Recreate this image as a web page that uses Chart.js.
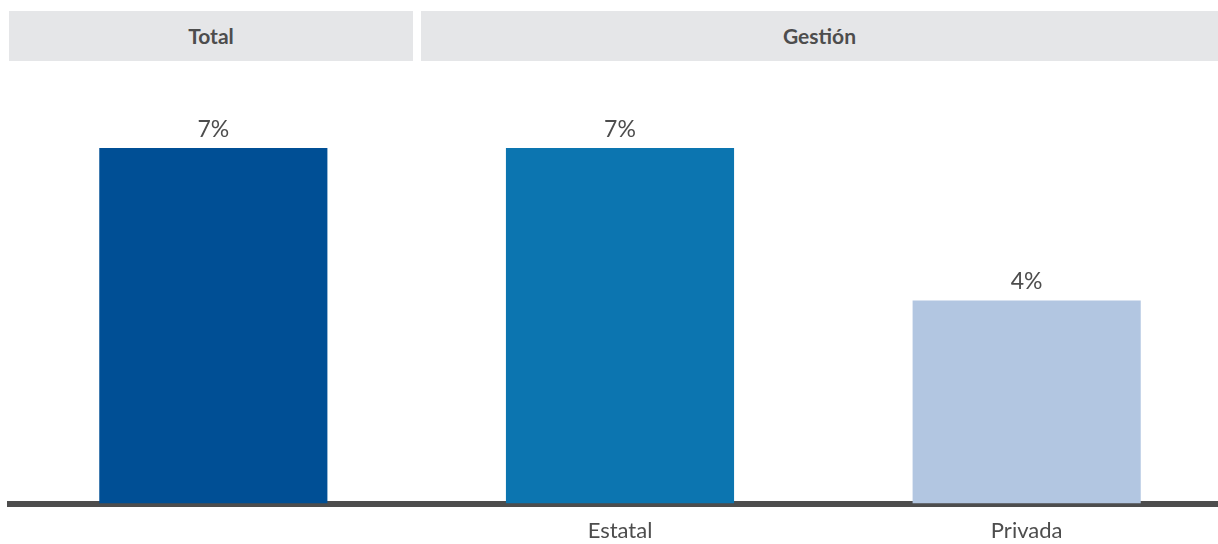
<!DOCTYPE html>
<html>
<head>
<meta charset="utf-8">
<script src="https://cdn.jsdelivr.net/npm/chart.js"></script>
<style>
  html, body { margin: 0; padding: 0; background: #fff; overflow: hidden; }
  #wrap { position: relative; width: 1218px; height: 544px; overflow: hidden; }
  #box { position: absolute; left: 0; top: 0; width: 1230px; height: 544px; }
  .head {
    position: absolute; top: 11px; height: 50px; line-height: 50px;
    background: #e5e6e8; color: #4d4d4d; text-align: center;
    font-family: Lato, sans-serif; font-weight: bold; font-size: 21px;
  }
</style>
</head>
<body>
<div id="wrap">
  <div id="box"><canvas id="myChart"></canvas></div>
  <div class="head" style="left:9px; width:404px;">Total</div>
  <div class="head" style="left:421px; width:797px;">Gestión</div>
</div>
<script>
// Chart data
var categories = ['Total', 'Estatal', 'Privada'];
var tickLabels = ['', 'Estatal', 'Privada'];
var values = [7, 7, 4];
var barColors = ['#004f95', '#0c75b0', '#b2c6e1'];

// value labels above the bars
var valueLabels = {
  id: 'valueLabels',
  afterDatasetsDraw: function (chart) {
    var ctx = chart.ctx;
    var meta = chart.getDatasetMeta(0);
    ctx.save();
    ctx.font = '23px Lato, sans-serif';
    ctx.fillStyle = '#4d4d4d';
    ctx.textAlign = 'center';
    ctx.textBaseline = 'alphabetic';
    meta.data.forEach(function (bar, i) {
      ctx.fillText(values[i] + '%', bar.x, bar.y - 11);
    });
    ctx.restore();
  }
};

var ctx = document.getElementById('myChart').getContext('2d');
var myChart = new Chart(ctx, {
  type: 'bar',
  data: {
    labels: categories,
    datasets: [{
      data: values,
      backgroundColor: barColors,
      borderWidth: 0,
      barPercentage: 0.561,
      categoryPercentage: 1
    }]
  },
  options: {
    responsive: true,
    maintainAspectRatio: false,
    animation: false,
    layout: { padding: { left: 10, right: 0, top: 148, bottom: -14 } },
    plugins: { legend: { display: false }, tooltip: { enabled: false } },
    scales: {
      x: {
        z: 1,
        grid: { display: false, drawTicks: false },
        border: { display: true, color: '#4d4d4d', width: 6 },
        ticks: {
          padding: 14,
          color: '#4d4d4d',
          font: { family: 'Lato, sans-serif', size: 22 },
          callback: function (v, i) { return tickLabels[i]; }
        }
      },
      y: { display: false, min: 0, max: 7 }
    }
  },
  plugins: [valueLabels]
});
</script>
</body>
</html>
